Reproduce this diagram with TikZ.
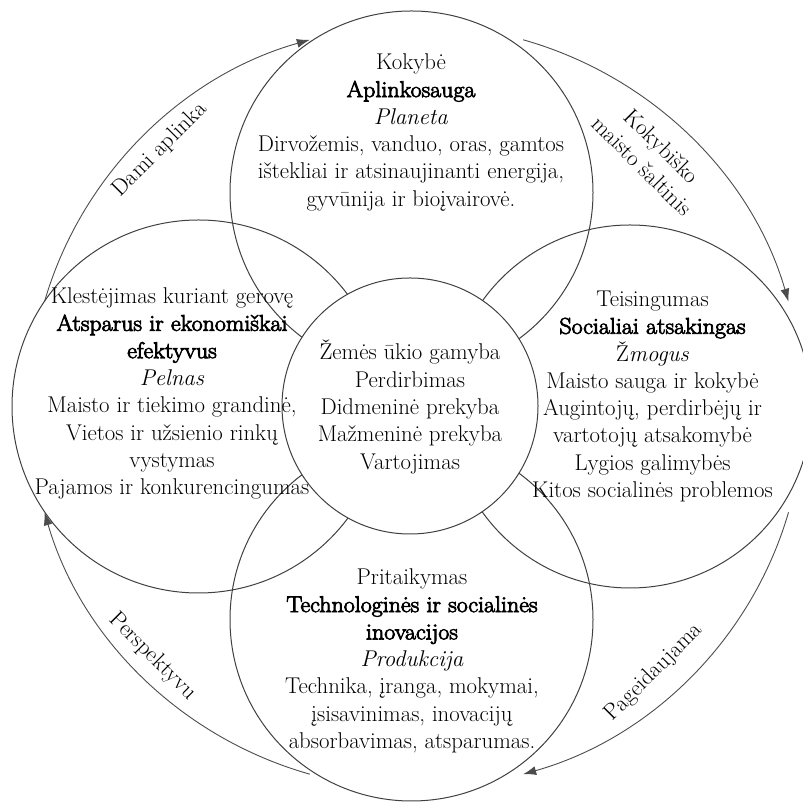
\documentclass[tikz,border=0pt]{standalone}
\usepackage{fontspec}
\newfontfamily\heavyface{lmroman17-regular.otf}[FakeBold=3.5, FakeStretch=1.05]
\newcommand\heavy[1]{{\heavyface #1}}
\usetikzlibrary{arrows.meta}

\begin{document}
\begin{tikzpicture}[
            x=1pt, y=1pt,
            ring/.style={circle, draw=black!75, line width=1pt, inner sep=0pt},
            petal/.style={ring, minimum size=363pt},
            core/.style={ring, fill=white, minimum size=256pt},
            txt/.style={align=center, inner sep=0pt, font=\fontsize{22.8}{27.3}\selectfont},
            tag/.style={align=center, inner sep=0pt, font=\fontsize{22.8}{28}\selectfont},
            flow/.style={draw=black!70, line width=0.9pt, -{Latex[length=13pt,width=9pt]}}
        ]
        \useasboundingbox (0,0) rectangle (803,802);
        \node[petal] (planet) at (411.5,609.5) {};
        \node[petal, minimum size=373pt] (profit) at (198.5,395.5) {};
        \node[petal] (people) at (630,395.5) {};
        \node[petal] (product) at (411.5,182.5) {};
        \node[core] (chain) at (410,396) {};
        \coordinate (orbit) at (416.5,395);

        \draw[flow] ([shift={(164:387pt and 382pt)}]orbit) arc[start angle=164, end angle=106, x radius=387pt, y radius=382pt];
        \draw[flow] ([shift={(74:387pt and 382pt)}]orbit) arc[start angle=74, end angle=16, x radius=387pt, y radius=382pt];
        \draw[flow] ([shift={(-16:387pt and 382pt)}]orbit) arc[start angle=-16, end angle=-74, x radius=387pt, y radius=382pt];
        \draw[flow] ([shift={(-106:387pt and 382pt)}]orbit) arc[start angle=-106, end angle=-164, x radius=387pt, y radius=382pt];

        \node[txt] (planettext) at (411,669.5) {Kokybė\\ \heavy{Aplinkosauga}\\ \textit{Planeta}\\
            Dirvožemis, vanduo, oras, gamtos\\ ištekliai ir atsinaujinanti energija,\\ gyvūnija ir bioįvairovė.};
        \node[txt] (profittext) at (172,408.5) {Klestėjimas kuriant gerovę\\ \heavy{Atsparus ir ekonomiškai}\\
            \heavy{efektyvus}\\ \textit{Pelnas}\\ Maisto ir tiekimo grandinė,\\ Vietos ir užsienio rinkų\\
            vystymas\\ Pajamos ir konkurencingumas};
        \node[txt] (peopletext) at (652.5,405.5) {Teisingumas\\ \heavy{Socialiai atsakingas}\\ Ž\textit{mogus}\\
            Maisto sauga ir kokybė\\ Augintojų, perdirbėjų ir\\ vartotojų atsakomybė\\ Lygios galimybės\\
            Kitos socialinės problemos};
        \node[txt] (chaintext) at (410,395) {Žemės ūkio gamyba\\ Perdirbimas\\ Didmeninė prekyba\\
            Mažmeninė prekyba\\ Vartojimas};
        \node[txt] (producttext) at (412,141) {Pritaikymas\\ \heavy{Technologinės ir socialinės}\\
            \heavy{inovacijos}\\ \textit{Produkcija}\\ Technika, įranga, mokymai,\\ įsisavinimas, inovacijų\\
            absorbavimas, atsparumas.};

        \node[tag, rotate=45] (dami) at (160,652) {Dami aplinka};
        \node[tag, rotate=-45] (source) at (652,646) {Kokybiško\\ maisto šaltinis};
        \node[tag, rotate=-45] (outlook) at (152.5,145.5) {Perspektyvu};
        \node[tag, rotate=45] (wanted) at (654,129.5) {Pageidaujama};
        \end{tikzpicture}
\end{document}
